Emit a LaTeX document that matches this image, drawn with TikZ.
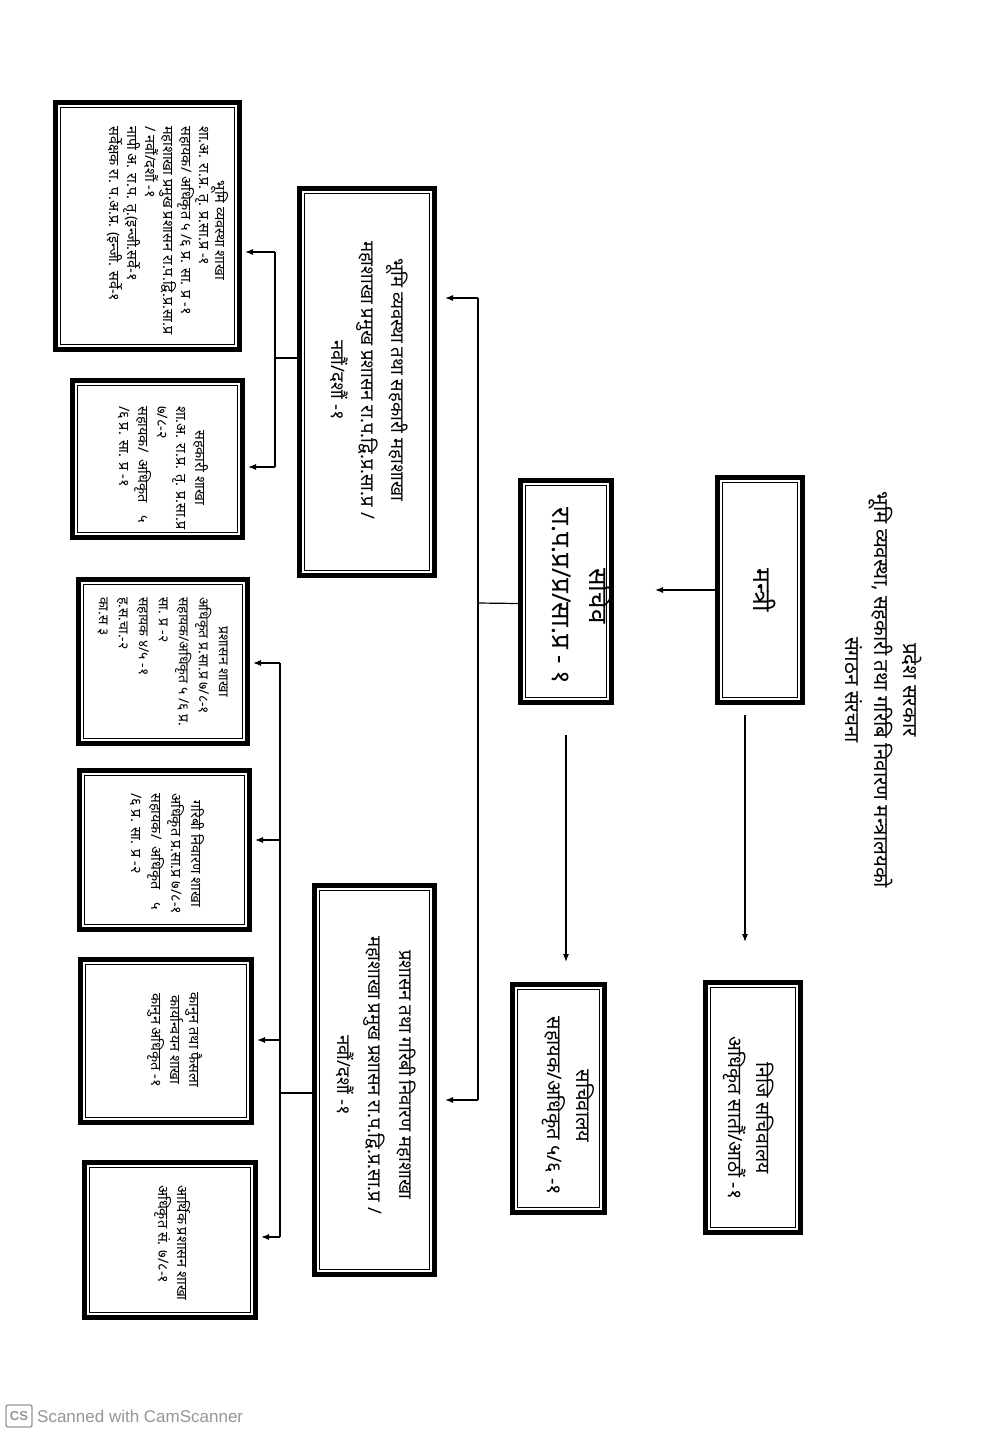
\documentclass[tikz,border=0pt]{standalone}
\usepackage{fontspec}
\setmainfont[Script=Devanagari]{Noto Sans}
\newfontfamily\latn{Liberation Sans}
\usetikzlibrary{arrows.meta}
\definecolor{wmgray}{RGB}{150,150,150}
\newcommand\mkbox[5]{%
  \node[box, minimum width={#4-#2-5}, minimum height={#5-#3-5}] (#1) at ({(#2+#4)/2},{(#3+#5)/2}) {};
  \draw[innerline] ([xshift=7.5pt,yshift=7.5pt]#1.south west) rectangle ([xshift=-7.5pt,yshift=-7.5pt]#1.north east);}
\begin{document}
\begin{tikzpicture}[x=1pt,y=-1pt,
  box/.style={draw=black, line width=5pt, rectangle, inner sep=0pt, fill=white},
  innerline/.style={draw=black, line width=1.5pt},
  rot/.style={rotate=-90, align=center, inner sep=0pt},
  conn/.style={draw=black, line width=1.2pt},
  arr/.style={conn, -{Latex[length=8pt,width=6pt]}}]
\useasboundingbox (0,0) rectangle (1004,1437);
\fill[white] (0,0) rectangle (1004,1437);

% title
\node[rot, font=\fontsize{20.5}{29}\selectfont] (title) at (884,690)
  {प्रदेश सरकार\\भूमि व्यवस्था, सहकारी तथा गरिबि निवारण मन्त्रालयको\\संगठन संरचना};

% boxes
\mkbox{n1}{715}{475}{805}{705}
\mkbox{n2}{518}{478}{614}{705}
\mkbox{n3}{703}{980}{803}{1235}
\mkbox{n4}{510}{982}{607}{1215}
\mkbox{n5}{297}{186}{437}{578}
\mkbox{n6}{312}{883}{437}{1277}
\mkbox{n7}{53}{100}{242}{352}
\mkbox{n8}{70}{378}{245}{540}
\mkbox{n9}{76}{577}{250}{746}
\mkbox{n10}{77}{768}{252}{932}
\mkbox{n11}{78}{957}{254}{1125}
\mkbox{n12}{82}{1160}{258}{1320}

% texts in big boxes
\node[rot, font=\fontsize{25}{30}\selectfont] (t1) at (765,590) {मन्त्री};
\node[rot, font=\fontsize{26}{37}\selectfont] (t2) at (582,596) {सचिव\\रा.प.प्र/प्र/सा.प्र - १};
\node[rot, font=\fontsize{19.5}{28}\selectfont] (t3) at (749,1118) {निजि सचिवालय\\अधिकृत सातौं/आठौं -१};
\node[rot, font=\fontsize{20}{29}\selectfont] (t4) at (568,1106) {सचिवालय\\सहायक/अधिकृत ५/६ -१};
\node[rot, font=\fontsize{18.5}{30}\selectfont] (t5) at (369,380)
  {भूमि व्यवस्था तथा सहकारी महाशाखा\\महाशाखा प्रमुख प्रशासन रा.प.द्वि.प्र.सा.प्र /\\नवौं/दशौं -१};
\node[rot, font=\fontsize{18.5}{31}\selectfont] (t6) at (376,1075)
  {प्रशासन तथा गरिबी निवारण महाशाखा\\महाशाखा प्रमुख प्रशासन रा.प.द्वि.प्र.सा.प्र /\\नवौं/दशौं -१};

% texts in small boxes
\node[rot, anchor=north west, font=\fontsize{14.5}{16.5}\selectfont] (t7) at (229,126)
  {\begin{tabular}{@{}l@{}}\multicolumn{1}{@{}c@{}}{भूमि व्यवस्था शाखा}\\
   शा.अ. रा.प्र. तृ. प्र.सा.प्र -१\\
   सहायक/ अधिकृत ५ /६ प्र. सा. प्र -१\\
   महाशाखा प्रमुख प्रशासन रा.प.द्वि.प्र.सा.प्र\\
   / नवौं/दशौं -१\\
   नापी अ. रा.प. तृ.(इन्जी.सर्वे-१\\
   सर्वेक्षक रा. प.अ.प्र. (इन्जी. सर्वे-१\end{tabular}};
\node[rot, anchor=north west, font=\fontsize{14.5}{19}\selectfont] (t8) at (209,406)
  {\begin{tabular}{@{}l@{}}\multicolumn{1}{@{}c@{}}{सहकारी शाखा}\\
   शा.अ. रा.प्र. तृ. प्र.सा.प्र\\
   ७/८-२\\
   सहायक/\hspace{0.5em}अधिकृत\hspace{0.9em}५\\
   /६ प्र. सा. प्र -१\end{tabular}};
\node[rot, anchor=north west, font=\fontsize{14}{20}\selectfont] (t9) at (233,597)
  {\begin{tabular}{@{}l@{}}\multicolumn{1}{@{}c@{}}{प्रशासन शाखा}\\
   अधिकृत प्र.सा.प्र ७/८-१\\
   सहायक/अधिकृत ५ /६ प्र.\\
   सा. प्र -२\\
   सहायक ४/५ -१\\
   ह.स.चा.-२\\
   का.स ३\end{tabular}};
\node[rot, anchor=north west, font=\fontsize{14.5}{20}\selectfont] (t10) at (206,793)
  {\begin{tabular}{@{}l@{}}\multicolumn{1}{@{}c@{}}{गरिबी निवारण शाखा}\\
   अधिकृत प्र.सा.प्र ७/८-१\\
   सहायक/\hspace{0.5em}अधिकृत\hspace{0.9em}५\\
   /६ प्र. सा. प्र -२\end{tabular}};
\node[rot, font=\fontsize{14.5}{19}\selectfont] (t11) at (175,1040)
  {कानुन तथा फैसला\\कार्यान्वयन शाखा\\कानुन अधिकृत -१};
\node[rot, anchor=north west, font=\fontsize{14.5}{19}\selectfont] (t12) at (191,1185)
  {\begin{tabular}{@{}l@{}}आर्थिक प्रशासन शाखा\\अधिकृत सं. ७/८-१\end{tabular}};

% connectors
\coordinate (c1) at (655,590);
\draw[arr] (n1.west) -- (c1);
\draw[arr] ([xshift=-15pt,yshift=-10pt]n1.south) -- ++(0,227);
\draw[arr] ([yshift=-30pt]n2.south) -- ++(0,227);

\coordinate (j1) at (478,603);
\coordinate (j1t) at (478,298);
\coordinate (j1b) at (478,1100);
\draw[conn] ([yshift=-12pt]n2.west) -- (j1);
\draw[conn] (j1t) -- (j1b);
\draw[arr] (j1t) -- ([xshift=8pt]n5.east |- j1t);
\draw[arr] (j1b) -- ([xshift=8pt]n6.east |- j1b);

\coordinate (j2) at (275,358);
\coordinate (j2t) at (275,252);
\coordinate (j2b) at (275,467);
\draw[conn] ([yshift=24pt]n5.west) -- (j2);
\draw[conn] (j2t) -- (j2b);
\draw[arr] (j2t) -- ([xshift=3pt]n7.east |- j2t);
\draw[arr] (j2b) -- ([xshift=3pt]n8.east |- j2b);

\coordinate (j3) at (280,1093);
\coordinate (j3a) at (280,663);
\coordinate (j3b) at (280,840);
\coordinate (j3c) at (280,1040);
\coordinate (j3d) at (280,1237);
\draw[conn] ([yshift=-13pt]n6.west) -- (j3);
\draw[conn] (j3a) -- (j3d);
\draw[arr] (j3a) -- ([xshift=3pt]n9.east |- j3a);
\draw[arr] (j3b) -- ([xshift=3pt]n10.east |- j3b);
\draw[arr] (j3c) -- ([xshift=3pt]n11.east |- j3c);
\draw[arr] (j3d) -- ([xshift=3pt]n12.east |- j3d);

% scanner watermark
\node[draw=wmgray, line width=1.3pt, rounded corners=2pt, minimum width=26pt, minimum height=22pt, inner sep=0pt, text=wmgray, font=\latn\bfseries\fontsize{13}{13}\selectfont] (cs) at (19,1416) {CS};
\node[anchor=west, text=wmgray, inner sep=0pt, font=\latn\fontsize{17}{17}\selectfont] (wm) at (37,1416) {Scanned with CamScanner};
\end{tikzpicture}
\end{document}
